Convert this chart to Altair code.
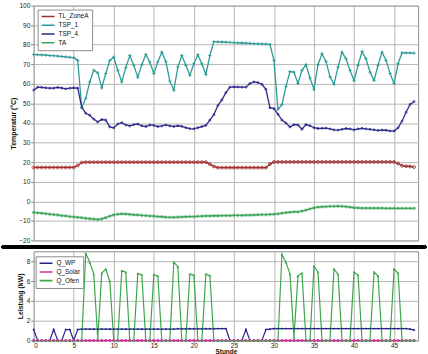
import altair as alt
import pandas as pd

FONT = "Liberation Sans"

hours = [0.0, 0.5, 1.0, 1.5, 2.0, 2.5, 3.0, 3.5, 4.0, 4.5, 5.0, 5.5,
         6.0, 6.5, 7.0, 7.5, 8.0, 8.5, 9.0, 9.5, 10.0, 10.5, 11.0, 11.5,
         12.0, 12.5, 13.0, 13.5, 14.0, 14.5, 15.0, 15.5, 16.0, 16.5, 17.0, 17.5,
         18.0, 18.5, 19.0, 19.5, 20.0, 20.5, 21.0, 21.5, 22.0, 22.5, 23.0, 23.5,
         24.0, 24.5, 25.0, 25.5, 26.0, 26.5, 27.0, 27.5, 28.0, 28.5, 29.0, 29.5,
         30.0, 30.5, 31.0, 31.5, 32.0, 32.5, 33.0, 33.5, 34.0, 34.5, 35.0, 35.5,
         36.0, 36.5, 37.0, 37.5, 38.0, 38.5, 39.0, 39.5, 40.0, 40.5, 41.0, 41.5,
         42.0, 42.5, 43.0, 43.5, 44.0, 44.5, 45.0, 45.5, 46.0, 46.5, 47.0, 47.5]

tl_zonea = [17.3, 17.3, 17.3, 17.3, 17.3, 17.3, 17.3, 17.3, 17.3, 17.3, 17.3, 18.3,
            19.8, 20.0, 20.0, 20.0, 20.0, 20.0, 20.0, 20.0, 20.0, 20.0, 20.0, 20.0,
            20.0, 20.0, 20.0, 20.0, 20.0, 20.0, 20.0, 20.0, 20.0, 20.0, 20.0, 20.0,
            20.0, 20.0, 20.0, 20.0, 20.0, 20.0, 20.0, 20.0, 19.0, 17.8, 17.2, 17.2,
            17.2, 17.2, 17.2, 17.2, 17.2, 17.2, 17.2, 17.2, 17.2, 17.2, 17.2, 19.0,
            20.1, 20.1, 20.1, 20.1, 20.1, 20.1, 20.1, 20.1, 20.1, 20.1, 20.1, 20.1,
            20.1, 20.1, 20.1, 20.1, 20.1, 20.1, 20.1, 20.1, 20.1, 20.1, 20.1, 20.1,
            20.1, 20.1, 20.1, 20.1, 20.1, 20.1, 20.1, 19.3, 18.2, 17.9, 17.8, 17.5]

tsp_1 = [75.0, 74.9, 74.8, 74.7, 74.5, 74.4, 74.2, 74.0, 73.8, 73.6, 73.4, 72.0,
         47.8, 52.6, 61.0, 67.0, 65.6, 58.0, 65.3, 72.0, 73.7, 67.0, 61.0, 68.3,
         74.5, 69.5, 63.4, 69.8, 75.0, 71.2, 65.3, 71.2, 76.2, 71.5, 61.4, 56.8,
         68.6, 74.5, 69.5, 64.4, 70.3, 74.9, 70.3, 64.8, 74.5, 81.6, 81.5, 81.4,
         81.3, 81.2, 81.1, 81.0, 80.9, 80.8, 80.7, 80.6, 80.5, 80.4, 80.3, 80.2,
         72.0, 47.0, 49.4, 58.6, 66.3, 66.0, 60.2, 66.9, 69.8, 63.0, 57.3, 69.8,
         75.4, 71.5, 63.6, 59.8, 68.6, 76.2, 72.8, 66.9, 61.8, 69.5, 76.5, 72.8,
         66.0, 61.8, 69.5, 76.2, 72.0, 65.3, 60.2, 70.3, 75.9, 75.8, 75.8, 75.7]

tsp_4 = [56.8, 58.3, 58.2, 58.0, 57.8, 57.8, 58.2, 57.9, 57.5, 57.8, 58.0, 57.8,
         48.0, 45.0, 44.0, 42.0, 40.5, 41.8, 41.5, 38.0, 37.5, 39.5, 40.2, 39.0,
         38.5, 39.2, 39.5, 38.6, 38.2, 39.0, 38.8, 38.2, 38.5, 39.0, 38.6, 38.2,
         38.6, 38.3, 37.6, 37.1, 37.0, 37.6, 38.2, 38.8, 41.5, 44.3, 48.9, 51.8,
         55.5, 58.3, 58.5, 58.4, 58.3, 58.3, 60.2, 61.0, 60.7, 59.8, 57.2, 47.8,
         47.4, 44.5, 41.5, 40.0, 38.0, 39.2, 39.0, 36.8, 39.2, 38.6, 37.6, 37.2,
         37.3, 37.4, 37.0, 36.5, 36.4, 36.8, 37.2, 37.0, 36.5, 37.0, 37.3, 37.0,
         36.8, 36.5, 36.2, 36.4, 36.3, 36.0, 35.9, 37.6, 41.0, 45.5, 49.5, 51.0]

ta = [-5.7, -5.9, -6.1, -6.3, -6.6, -6.8, -7.0, -7.3, -7.5, -7.8, -8.0, -8.2,
      -8.4, -8.7, -8.9, -9.1, -9.3, -9.0, -8.4, -7.6, -7.0, -6.6, -6.4, -6.5,
      -6.7, -6.9, -7.0, -7.2, -7.3, -7.5, -7.6, -7.8, -7.9, -8.1, -8.2, -8.2,
      -8.1, -8.0, -7.9, -7.8, -7.8, -7.7, -7.6, -7.5, -7.5, -7.4, -7.4, -7.3,
      -7.3, -7.3, -7.2, -7.2, -7.2, -7.1, -7.1, -7.0, -6.9, -6.8, -6.8, -6.7,
      -6.6, -6.4, -6.1, -5.8, -5.6, -5.4, -5.4, -5.0, -4.5, -3.9, -3.4, -3.0,
      -2.8, -2.7, -2.6, -2.6, -2.5, -2.6, -2.7, -3.0, -3.3, -3.4, -3.5, -3.5,
      -3.5, -3.5, -3.5, -3.5, -3.6, -3.6, -3.6, -3.6, -3.6, -3.6, -3.6, -3.6]

q_wp = [1.1, 0.0, 0.0, 0.0, 0.0, 1.1, 0.0, 0.0, 1.1, 1.1, 0.0, 1.1,
        1.15, 1.15, 1.15, 1.15, 1.15, 1.15, 1.15, 1.15, 1.15, 1.15, 1.15, 1.15,
        1.15, 1.15, 1.15, 1.15, 1.15, 1.15, 1.15, 1.15, 1.15, 1.15, 1.15, 1.15,
        1.18, 1.18, 1.18, 1.18, 1.18, 1.18, 1.18, 1.18, 1.18, 1.18, 1.2, 1.2,
        1.2, 0.0, 0.0, 0.0, 0.0, 1.1, 0.0, 0.0, 0.0, 0.0, 1.1, 1.15,
        1.2, 1.2, 1.2, 1.2, 1.2, 1.2, 1.2, 1.2, 1.2, 1.2, 1.2, 1.2,
        1.2, 1.2, 1.2, 1.2, 1.2, 1.2, 1.2, 1.2, 1.2, 1.2, 1.2, 1.2,
        1.2, 1.2, 1.2, 1.2, 1.2, 1.2, 1.2, 1.2, 1.2, 1.2, 1.15, 1.05]

q_solar = [0.0, 0.0, 0.0, 0.0, 0.0, 0.0, 0.0, 0.0, 0.0, 0.0, 0.0, 0.0,
           0.0, 0.0, 0.0, 0.0, 0.0, 0.0, 0.0, 0.0, 0.0, 0.0, 0.0, 0.0,
           0.0, 0.0, 0.0, 0.0, 0.0, 0.0, 0.0, 0.0, 0.0, 0.0, 0.0, 0.0,
           0.0, 0.0, 0.0, 0.0, 0.0, 0.0, 0.0, 0.0, 0.0, 0.0, 0.0, 0.0,
           0.0, 0.0, 0.0, 0.0, 0.0, 0.0, 0.0, 0.0, 0.0, 0.0, 0.0, 0.0,
           0.0, 0.0, 0.0, 0.0, 0.0, 0.0, 0.0, 0.0, 0.0, 0.0, 0.0, 0.0,
           0.0, 0.0, 0.0, 0.0, 0.0, 0.0, 0.0, 0.0, 0.0, 0.0, 0.0, 0.0,
           0.0, 0.0, 0.0, 0.0, 0.0, 0.0, 0.0, 0.0, 0.0, 0.0, 0.0, 0.0]

q_ofen = [0.0, 0.0, 0.0, 0.0, 0.0, 0.0, 0.0, 0.0, 0.0, 0.0, 0.0, 0.0,
          0.0, 8.8, 7.9, 6.7, 0.2, 6.8, 7.2, 6.0, 0.0, 0.0, 7.05, 6.9,
          0.0, 0.0, 6.75, 6.65, 0.0, 0.0, 6.65, 6.5, 0.0, 0.0, 0.0, 7.9,
          7.45, 0.0, 0.0, 6.7, 6.6, 0.0, 0.0, 6.7, 6.55, 0.0, 0.0, 0.0,
          0.0, 0.0, 0.0, 0.0, 0.0, 0.0, 0.0, 0.0, 0.0, 0.0, 0.0, 0.0,
          0.0, 0.0, 8.7, 7.9, 6.7, 0.3, 6.5, 6.8, 0.0, 0.0, 7.5, 6.9,
          0.0, 0.0, 0.0, 7.2, 6.7, 0.0, 0.0, 0.0, 6.9, 6.6, 0.0, 0.0,
          0.0, 6.9, 6.5, 0.0, 0.0, 0.0, 7.2, 6.8, 0.0, 0.0, 0.0, 0.0]

top_names = ["TL_ZoneA", "TSP_1", "TSP_4", "TA"]
top_colors = ["#9c2b2b", "#2b9b97", "#2d2a8c", "#3ea65a"]
top_shapes = ["circle", "M-1,0H1M0,-1V1", "circle",
              "M-1,0H1M0,-1V1M-0.7,-0.7L0.7,0.7M-0.7,0.7L0.7,-0.7"]
top_sizes = [9, 12, 4, 12]
top_values = [tl_zonea, tsp_1, tsp_4, ta]

bot_names = ["Q_WP", "Q_Solar", "Q_Ofen"]
bot_colors = ["#23238c", "#cc3399", "#3ea64a"]
bot_shapes = ["diamond", "square", "triangle-up"]
bot_sizes = [6, 7, 8]
bot_values = [q_wp, q_solar, q_ofen]

for arr in top_values + bot_values:
    assert len(arr) == len(hours)

top_df = pd.DataFrame({
    "h": hours * len(top_names),
    "v": sum(top_values, []),
    "s": [n for n in top_names for _ in hours],
})
bot_df = pd.DataFrame({
    "h": hours * len(bot_names),
    "v": sum(bot_values, []),
    "s": [n for n in bot_names for _ in hours],
})

W = 388
grid_x = [0, 5, 10, 15, 20, 25, 30, 35, 40, 45]


def legend(x, y):
    return alt.Legend(orient="none", legendX=x, legendY=y, title=None,
                      symbolType="stroke", symbolSize=170, symbolStrokeWidth=1.6,
                      labelFontSize=6.5, labelFont=FONT, labelColor="#111",
                      padding=3, rowPadding=0.8, clipHeight=8,
                      strokeColor="#8c8c8c", fillColor="white", labelOffset=3)


# ---------- top panel ----------
tx = alt.X("h:Q", scale=alt.Scale(domain=[0, 48], nice=False, zero=False),
           axis=alt.Axis(values=grid_x, labels=False, ticks=False, title=None,
                         minExtent=0, maxExtent=0))
ty = alt.Y("v:Q", scale=alt.Scale(domain=[-20, 100], nice=False),
           axis=alt.Axis(values=list(range(-20, 101, 10)), title="Temperatur (°C)",
                         titlePadding=2))
tcol = alt.Color("s:N", scale=alt.Scale(domain=top_names, range=top_colors),
                 legend=legend(4, 4))
tbase = alt.Chart(top_df).encode(x=tx, y=ty, color=tcol)
top_layers = [tbase.mark_line(strokeWidth=1.3)]
for name, shp, sz in zip(top_names, top_shapes, top_sizes):
    top_layers.append(
        tbase.transform_filter(alt.datum.s == name).mark_point(
            shape=shp, filled=False, size=sz, strokeWidth=0.8, opacity=1))
top = alt.layer(*top_layers).properties(width=W, height=237)

# ---------- bottom panel ----------
bx = alt.X("h:Q", scale=alt.Scale(domain=[0, 48], nice=False, zero=False),
           axis=alt.Axis(values=grid_x, title="Stunde", tickSize=2, labelPadding=0,
                         titleBaseline="middle", titleY=11, titleFontSize=6.5))
by = alt.Y("v:Q", scale=alt.Scale(domain=[0, 9], nice=False),
           axis=alt.Axis(values=[0, 2, 4, 6, 8], title="Leistung (kW)", titlePadding=3))
bcol = alt.Color("s:N", scale=alt.Scale(domain=bot_names, range=bot_colors),
                 legend=legend(2, 5))
bbase = alt.Chart(bot_df).encode(x=bx, y=by, color=bcol)
bot_layers = [bbase.mark_line(strokeWidth=1.2)]
for name, shp, sz in zip(bot_names, bot_shapes, bot_sizes):
    bot_layers.append(
        bbase.transform_filter(alt.datum.s == name).mark_point(
            shape=shp, filled=True, size=sz, opacity=1))
bot_layers.append(
    alt.Chart(bot_df).mark_rule(color="black", strokeWidth=3).encode(
        x=alt.value(-32), x2=alt.value(W + 8), y=alt.value(-4.5)))
bottom = alt.layer(*bot_layers).properties(width=W, height=90)

chart = alt.vconcat(top, bottom, spacing=0).resolve_scale(
    color="independent"
).resolve_legend(color="independent").properties(
    padding={"left": 0, "top": 0, "right": 0, "bottom": 0},
    background="white",
).configure_axis(
    labelFont=FONT, titleFont=FONT, labelFontSize=6.5, titleFontSize=7,
    titleFontWeight="bold", labelColor="#222", titleColor="#111",
    gridColor="#b5b5b5", gridWidth=1, domain=False, tickColor="#888",
    tickSize=3, labelPadding=1,
).configure_view(stroke="#8c8c8c", strokeWidth=1)

chart.save("out.html", embed_options={"renderer": "svg", "actions": False})
